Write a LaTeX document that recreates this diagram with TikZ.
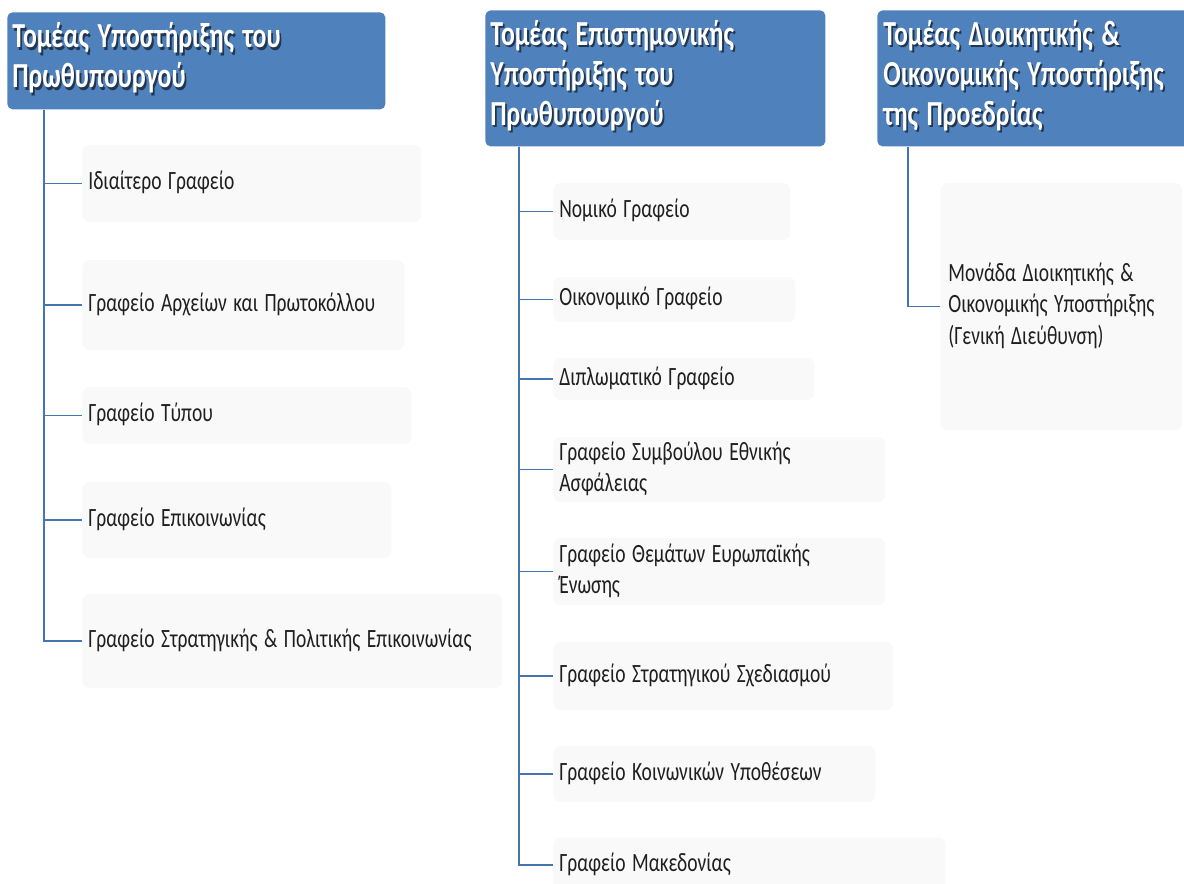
\documentclass[tikz,border=0pt]{standalone}
\usepackage{fontspec}
\setmainfont{Carlito}
\usepackage{graphicx}
\usepackage{xcolor}
\usetikzlibrary{positioning,calc}

\definecolor{hdblue}{HTML}{4F81BD}
\definecolor{linkblue}{HTML}{4575B0}
\definecolor{hdshade}{HTML}{22364F}

\newcommand{\txtlines}[1]{\begin{tabular}{@{}l@{}}#1\end{tabular}}
\newcommand{\narrow}[1]{\scalebox{0.74}[1]{\txtlines{#1}}}
\newcommand{\hdtext}[1]{\scalebox{0.735}[1]{\rlap{\kern1.4pt\raisebox{-1.4pt}{\color{hdshade}\txtlines{#1}}}\txtlines{#1}}}

\tikzset{
  head/.style={rectangle, rounded corners=3pt, fill=hdblue, text=white,
    font=\fontsize{20}{22.8}\selectfont\bfseries, anchor=north west,
    inner xsep=0.1cm, inner ysep=0pt, align=left},
  unit/.style={rectangle, rounded corners=4pt, fill=gray!5, text=black!88,
    font=\fontsize{15}{18}\selectfont, anchor=west,
    inner xsep=0.12cm, inner ysep=0pt, align=left},
  link/.style={draw=linkblue, line width=1.1pt}
}

\begin{document}
\begin{tikzpicture}[x=0.2mm, y=-0.2mm]
    \useasboundingbox (0,0) rectangle (1184,883);
    \clip (0,0) rectangle (1184,883);

    % Prime minister support
    \node[head, text width=7.36cm, minimum height=1.94cm] (h1) at (7,12)
        {\hdtext{Τομέας Υποστήριξης του\\Πρωθυπουργού}};
    \coordinate (t1) at ([xshift=0.74cm]h1.south west);

    \node[unit, text width=6.54cm, minimum height=1.54cm] (c1) at (82,183.5) {\narrow{Ιδιαίτερο Γραφείο}};
    \node[unit, text width=6.20cm, minimum height=1.80cm] (c2) at (82,305) {\narrow{Γραφείο Αρχείων και Πρωτοκόλλου}};
    \node[unit, text width=6.34cm, minimum height=1.14cm] (c3) at (82,415.5) {\narrow{Γραφείο Τύπου}};
    \node[unit, text width=5.94cm, minimum height=1.52cm] (c4) at (82,520) {\narrow{Γραφείο Επικοινωνίας}};
    \node[unit, text width=8.16cm, minimum height=1.88cm] (c5) at (82,641) {\narrow{Γραφείο Στρατηγικής \& Πολιτικής Επικοινωνίας}};

    \draw[link] (t1) |- (c1.west);
    \draw[link] (t1) |- (c2.west);
    \draw[link] (t1) |- (c3.west);
    \draw[link] (t1) |- (c4.west);
    \draw[link] (t1) |- (c5.west);

    % Scientific support
    \node[head, text width=6.6cm, minimum height=2.72cm] (h2) at (485,10)
        {\hdtext{Τομέας Επιστημονικής\\Υποστήριξης του\\Πρωθυπουργού}};
    \coordinate (t2) at ([xshift=0.68cm]h2.south west);

    \node[unit, text width=4.50cm, minimum height=1.14cm] (d1) at (553,211.5) {\narrow{Νομικό Γραφείο}};
    \node[unit, text width=4.60cm, minimum height=0.90cm] (d2) at (553,299.5) {\narrow{Οικονομικό Γραφείο}};
    \node[unit, text width=4.98cm, minimum height=0.84cm] (d3) at (553,379) {\narrow{Διπλωματικό Γραφείο}};
    \node[unit, text width=6.40cm, minimum height=1.30cm] (d4) at (553,469.5) {\narrow{Γραφείο Συμβούλου Εθνικής\\Ασφάλειας}};
    \node[unit, text width=6.40cm, minimum height=1.34cm] (d5) at (553,571.5) {\narrow{Γραφείο Θεμάτων Ευρωπαϊκής\\Ένωσης}};
    \node[unit, text width=6.56cm, minimum height=1.36cm] (d6) at (553,676) {\narrow{Γραφείο Στρατηγικού Σχεδιασμού}};
    \node[unit, text width=6.20cm, minimum height=1.12cm] (d7) at (553,774) {\narrow{Γραφείο Κοινωνικών Υποθέσεων}};
    \node[unit, text width=7.60cm, minimum height=1.10cm] (d8) at (553,865) {\narrow{Γραφείο Μακεδονίας}};

    \draw[link] (t2) |- (d1.west);
    \draw[link] (t2) |- (d2.west);
    \draw[link] (t2) |- (d3.west);
    \draw[link] (t2) |- (d4.west);
    \draw[link] (t2) |- (d5.west);
    \draw[link] (t2) |- (d6.west);
    \draw[link] (t2) |- (d7.west);
    \draw[link] (t2) |- (d8.west);

    % Administrative support
    \node[head, text width=6.66cm, minimum height=2.72cm, inner xsep=0.12cm] (h3) at (877,10)
        {\hdtext{Τομέας Διοικητικής \&\\Οικονομικής Υποστήριξης\\της Προεδρίας}};
    \coordinate (t3) at ([xshift=0.62cm]h3.south west);

    \node[unit, text width=4.52cm, minimum height=4.94cm, inner xsep=0.16cm] (e1) at (940,306.5)
        {\narrow{Μονάδα Διοικητικής \&\\Οικονομικής Υποστήριξης\\(Γενική Διεύθυνση)}};

    \draw[link] (t3) |- (e1.west);
\end{tikzpicture}
\end{document}
